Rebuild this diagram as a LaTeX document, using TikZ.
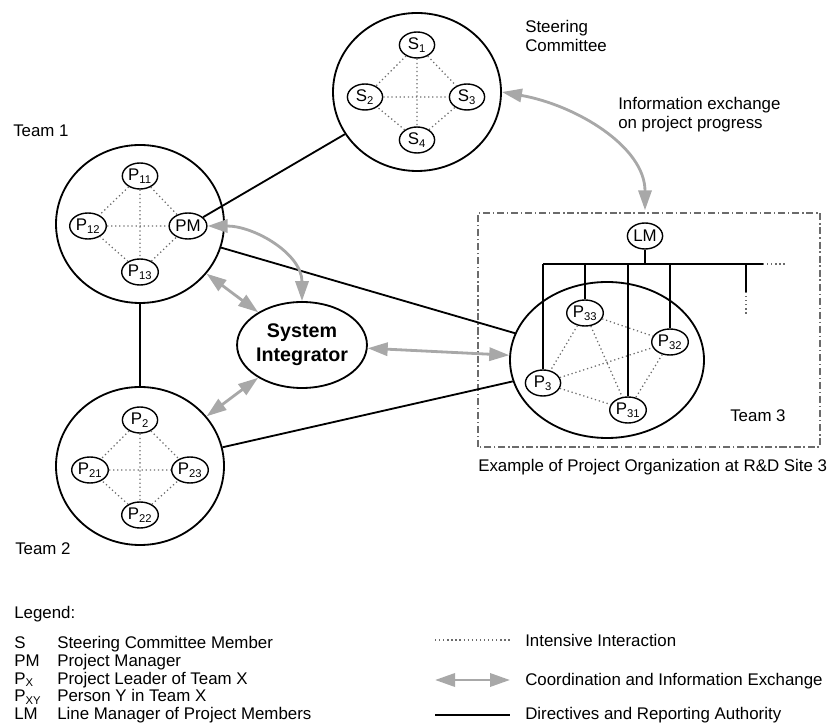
\documentclass[tikz,border=0pt]{standalone}
\usepackage{fontspec}
\setmainfont{Liberation Sans}
\usetikzlibrary{arrows.meta,shapes.geometric}
\definecolor{exchgray}{rgb}{0.66,0.66,0.66}
\definecolor{dotgray}{rgb}{0.42,0.42,0.42}
\tikzset{team/.style={draw, ellipse, line width=1.3pt, minimum width=4.2cm, minimum height=3.95cm},
         member/.style={draw, ellipse, line width=1pt, inner sep=0.5pt,
                        minimum width=0.88cm, minimum height=0.65cm, font=\fontsize{12}{14}\selectfont},
         sysint/.style={draw, ellipse, line width=1.3pt, inner sep=0pt, align=center,
                        minimum width=3.2cm, minimum height=2.15cm, font=\bfseries\fontsize{14}{17}\selectfont},
         txt/.style={inner sep=0pt, font=\fontsize{12}{13.5}\selectfont},
         inter/.style={dotted, line width=0.9pt, color=dotgray},
         exch/.style={line width=2pt, color=exchgray, >={Triangle[length=0.5cm,width=0.33cm]}, <->},
         direct/.style={line width=1.3pt, color=black},
         sitebox/.style={line width=0.8pt, color=dotgray, dash pattern=on 5pt off 2pt on 1pt off 2pt}}
\begin{document}
\begin{tikzpicture}
\useasboundingbox (0,0) rectangle (20.675,18.1);
% Steering committee:
\node[team] (steer) at (10.425,15.8) {};
\node[member] (S1) at (10.425,16.975) {S\textsubscript{1}};
\node[member] (S2) at (9.125,15.675) {S\textsubscript{2}};
\node[member] (S3) at (11.675,15.675) {S\textsubscript{3}};
\node[member] (S4) at (10.425,14.6) {S\textsubscript{4}};
\draw[inter] (S1) -- (S4) (S2) -- (S3) (S1) -- (S2) (S1) -- (S3)
             (S4) -- (S2) (S4) -- (S3);
\node[txt, align=left, anchor=north west] (steerlbl) at (13.125,17.6) {Steering\\Committee};
% Team 1:
\node[team] (team1) at (3.5,12.5) {};
\node[member] (P11) at (3.5,13.7) {P\textsubscript{11}};
\node[member] (P12) at (2.2,12.45) {P\textsubscript{12}};
\node[member] (PM) at (4.7,12.45) {PM};
\node[member] (P13) at (3.5,11.3) {P\textsubscript{13}};
\draw[inter] (P11) -- (P13) (P12) -- (PM) (P11) -- (P12) (P11) -- (PM)
             (P13) -- (P12) (P13) -- (PM);
\node[txt, anchor=base west] (team1lbl) at (0.325,14.68) {Team 1};
% Team 2:
\node[team] (team2) at (3.5,6.45) {};
\node[member] (P2) at (3.5,7.6) {P\textsubscript{2}};
\node[member] (P21) at (2.25,6.35) {P\textsubscript{21}};
\node[member] (P23) at (4.75,6.35) {P\textsubscript{23}};
\node[member] (P22) at (3.5,5.225) {P\textsubscript{22}};
\draw[inter] (P2) -- (P22) (P21) -- (P23) (P2) -- (P21) (P2) -- (P23)
             (P22) -- (P21) (P22) -- (P23);
\node[txt, anchor=base west] (team2lbl) at (0.375,4.24) {Team 2};
% System integrator:
\node[sysint] (SI) at (7.55,9.475) {System\\Integrator};
% Team 3 at R&D site 3:
\draw[sitebox] (11.95,6.925) rectangle (20.5,12.775);
\node[team, minimum width=4.85cm, minimum height=3.9cm] (team3) at (15.175,9.1) {};
\node[member] (P33) at (14.625,10.275) {P\textsubscript{33}};
\node[member] (P32) at (16.75,9.55) {P\textsubscript{32}};
\node[member] (P3) at (13.575,8.525) {P\textsubscript{3}};
\node[member] (P31) at (15.7,7.85) {P\textsubscript{31}};
\draw[inter] (P33) -- (P32) (P33) -- (P3) (P33) -- (P31) (P3) -- (P32)
             (P3) -- (P31) (P32) -- (P31);
\node[member] (LM) at (16.125,12.2) {LM};
\node[txt, anchor=base west] (team3lbl) at (18.25,7.56) {Team 3};
\node[txt, anchor=base west] (sitelbl) at (11.95,6.3) {Example of Project Organization at R\&D Site 3};
% Line manager tree:
\coordinate (busL) at (13.575,11.5);
\coordinate (busR) at (19.075,11.5);
\coordinate (busE) at (19.675,11.5);
\coordinate (dropT) at (18.65,11.5);
\coordinate (dropB) at (18.65,10.8);
\coordinate (dropE) at (18.65,10.225);
\draw[direct] (busL) -- (busR);
\draw[inter] (busR) -- (busE); % more members
\draw[direct] (LM) -- (LM |- busL);
\draw[direct] (busL) -- (P3);
\draw[direct] (P33 |- busL) -- (P33);
\draw[direct] (P31 |- busL) -- (P31);
\draw[direct] (P32 |- busL) -- (P32);
\draw[direct] (dropT) -- (dropB);
\draw[inter] (dropB) -- (dropE); % more members
% Directives and reporting:
\draw[direct] (PM) -- (steer);
\draw[direct] (team1) -- (team2);
\draw[direct] (team1) -- (team3);
\draw[direct] (team2) -- (team3);
% Coordination and information exchange:
\draw[exch] (team1) -- (SI);
\draw[exch] (team2) -- (SI);
\draw[exch] (SI) -- (team3);
\draw[exch] (PM.east) to[out=0,in=90] (SI.north);
\draw[exch, shorten >=0.3cm] (steer.east) to[out=-10,in=90] (LM.north);
\node[txt, align=left, anchor=north west] (infolbl) at (15.45,15.675) {Information exchange\\on project progress};
% Legend:
\node[txt, anchor=base west] (leglbl) at (0.35,2.65) {Legend:};
\node[txt, anchor=base west] (keyS) at (0.35,1.88) {S};
\node[txt, anchor=base west] (keyPM) at (0.35,1.44) {PM};
\node[txt, anchor=base west] (keyPx) at (0.35,1.0) {P\textsubscript{X}};
\node[txt, anchor=base west] (keyPxy) at (0.35,0.56) {P\textsubscript{XY}};
\node[txt, anchor=base west] (keyLM) at (0.35,0.12) {LM};
\node[txt, anchor=base west] (txtS) at (1.425,1.88) {Steering Committee Member};
\node[txt, anchor=base west] (txtPM) at (1.425,1.44) {Project Manager};
\node[txt, anchor=base west] (txtPx) at (1.425,1.0) {Project Leader of Team X};
\node[txt, anchor=base west] (txtPxy) at (1.425,0.56) {Person Y in Team X};
\node[txt, anchor=base west] (txtLM) at (1.425,0.12) {Line Manager of Project Members};
\coordinate (inA) at (10.875,2.1);
\coordinate (inB) at (12.75,2.1);
\coordinate (exA) at (10.875,1.1);
\coordinate (exB) at (12.75,1.1);
\coordinate (diA) at (10.875,0.22);
\coordinate (diB) at (12.75,0.22);
\draw[inter] (inA) -- (inB);
\draw[exch] (exA) -- (exB);
\draw[direct] (diA) -- (diB);
\node[txt, anchor=base west] (txtin) at (13.125,1.93) {Intensive Interaction};
\node[txt, anchor=base west] (txtex) at (13.125,0.97) {Coordination and Information Exchange};
\node[txt, anchor=base west] (txtdi) at (13.125,0.12) {Directives and Reporting Authority};
\end{tikzpicture}
\end{document}
